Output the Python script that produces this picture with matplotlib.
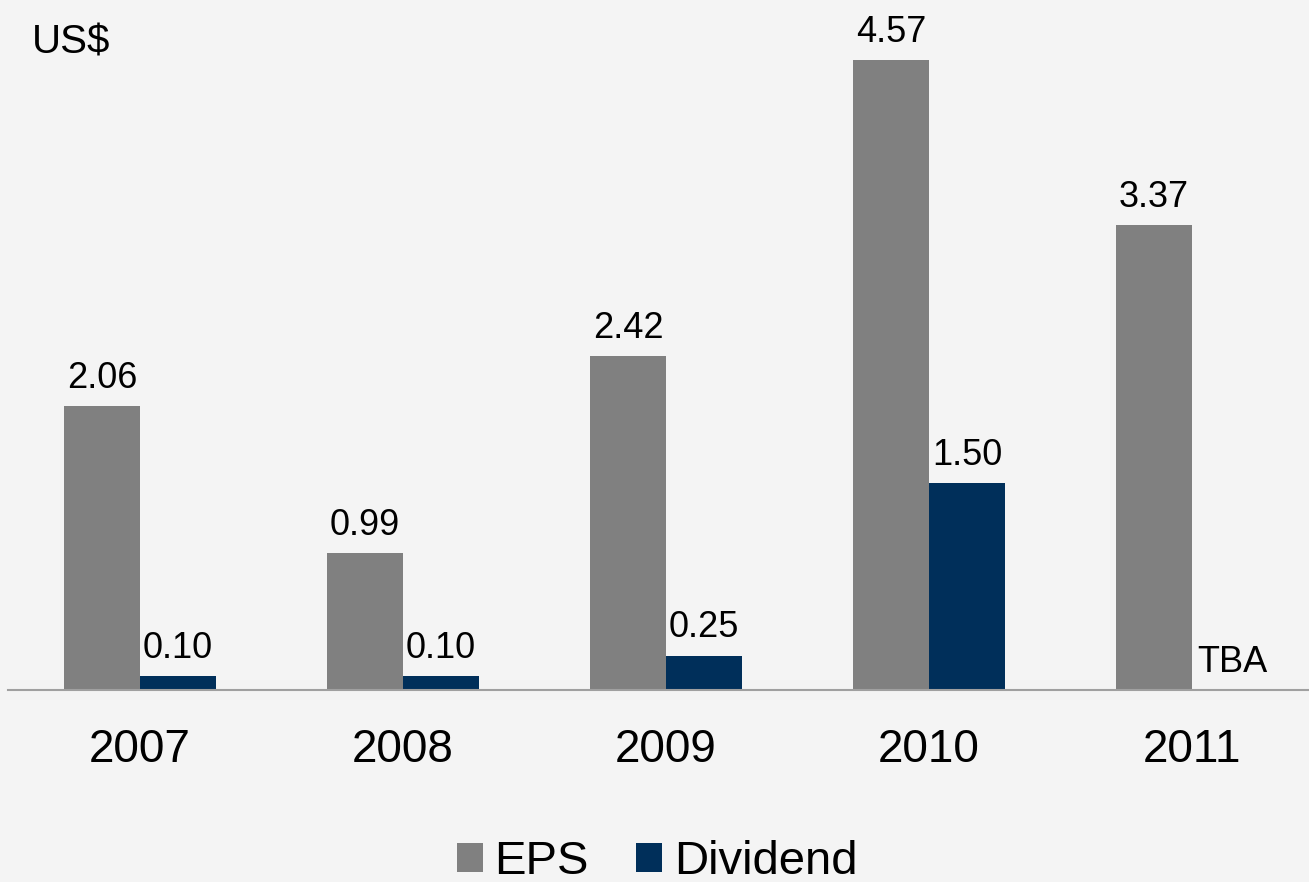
import matplotlib.pyplot as plt
import numpy as np

plt.rcParams["font.family"] = ["Liberation Sans", "DejaVu Sans"]

years = ["2007", "2008", "2009", "2010", "2011"]
eps = [2.06, 0.99, 2.42, 4.57, 3.37]
dividend = [0.10, 0.10, 0.25, 1.50, 0.0]
div_labels = ["0.10", "0.10", "0.25", "1.50", "TBA"]

eps_color = "#808080"
div_color = "#002f5a"
bg = "#f4f4f4"

W, H = 1309, 882
fig = plt.figure(figsize=(W / 100, H / 100), dpi=100, facecolor=bg)
ax = fig.add_axes([8 / W, 1 - 690 / H, 1 - 8 / W, 690 / H])
ax.set_facecolor(bg)

x = np.arange(len(years))
width = 0.289

b1 = ax.bar(x - width / 2, eps, width, color=eps_color, label="EPS")
b2 = ax.bar(x + width / 2, dividend, width, color=div_color, label="Dividend")

for rect, v in zip(b1, eps):
    ax.annotate(f"{v:.2f}", (rect.get_x() + rect.get_width() / 2, v),
                xytext=(0, 13), textcoords="offset points",
                ha="center", va="baseline", fontsize=26)
for rect, v, lab in zip(b2, dividend, div_labels):
    ax.annotate(lab, (rect.get_x() + rect.get_width() / 2 + (0.01 if lab == "TBA" else 0), v),
                xytext=(0, 13), textcoords="offset points",
                ha="center", va="baseline", fontsize=26)

ax.set_xlim((8 - 140) / 263, (1309 - 140) / 263)
ax.set_ylim(0, 690 / 137.9)

for s in ["top", "right", "left"]:
    ax.spines[s].set_visible(False)
ax.spines["bottom"].set_color("#a0a0a0")
ax.spines["bottom"].set_linewidth(1.5)
ax.set_yticks([])
ax.set_xticks(x)
ax.set_xticklabels(years, fontsize=33)
ax.tick_params(axis="x", length=0, pad=27)

fig.text(32 / W, 1 - 53 / H, "US$", fontsize=29, va="baseline", ha="left")

fig.legend(handles=[b1, b2], loc="center", bbox_to_anchor=(657 / W, 1 - 862 / H),
           ncol=2, frameon=False, fontsize=34, handlelength=0.55, handleheight=0.55,
           handletextpad=0.25, columnspacing=1.0, borderaxespad=0)

fig.savefig("out.png", dpi=100, facecolor=bg)
